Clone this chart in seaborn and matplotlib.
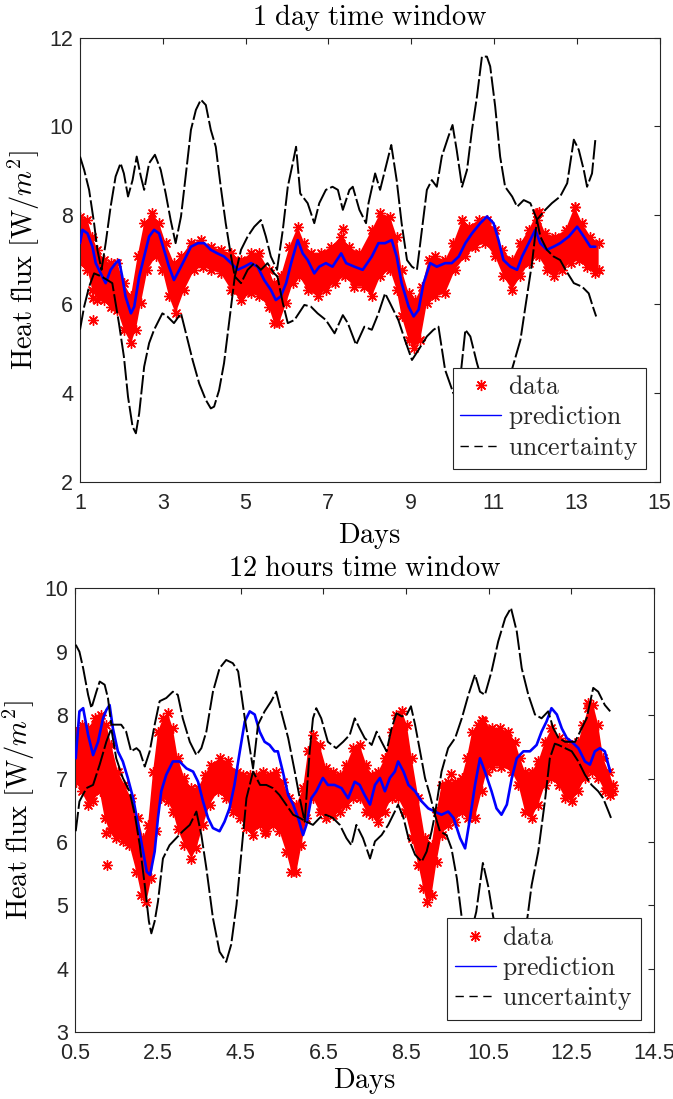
import numpy as np
import matplotlib
matplotlib.use("Agg")
import matplotlib.pyplot as plt
import seaborn as sns
from matplotlib.lines import Line2D

sns.set_style("white")
plt.rcParams["mathtext.fontset"] = "cm"
plt.rcParams["font.family"] = ["Liberation Sans", "DejaVu Sans"]

# ---------------- 1 day time window ----------------
w1_band_hi_day = [1.00, 1.18, 1.30, 1.42, 1.58, 1.74, 1.90, 2.06, 2.23, 2.39, 2.55, 2.75, 2.91, 3.07, 3.27, 3.44,
                  3.68, 3.92, 4.16, 4.40, 4.65, 4.89, 5.13, 5.33, 5.56, 5.69, 5.85, 6.06, 6.26, 6.42, 6.58, 6.82,
                  7.06, 7.31, 7.51, 7.75, 8.05, 8.25, 8.49, 8.65, 8.77, 8.94, 9.10, 9.26, 9.42, 9.58, 9.82, 10.02,
                  10.23, 10.39, 10.63, 10.83, 11.03, 11.19, 11.44, 11.64, 11.84, 12.04, 12.24, 12.48, 12.73,
                  12.95, 13.13, 13.33, 13.53]
w1_band_hi = [7.97, 7.89, 7.52, 7.22, 6.99, 6.92, 6.92, 6.47, 6.17, 7.07, 7.82, 8.04, 7.82, 7.37, 6.92, 7.07,
              7.37, 7.44, 7.29, 7.22, 7.14, 6.99, 7.14, 7.14, 6.77, 6.47, 6.62, 7.29, 7.74, 7.37, 7.14, 7.14,
              7.29, 7.52, 7.29, 7.14, 7.67, 8.04, 7.97, 7.52, 6.77, 6.24, 6.09, 6.39, 6.99, 7.07, 6.99, 7.37,
              7.89, 7.74, 7.89, 7.89, 7.67, 7.22, 6.99, 7.37, 7.67, 8.04, 7.59, 7.52, 7.67,
              8.19, 7.82, 7.52, 7.37]
w1_band_lo_day = [1.00, 1.18, 1.30, 1.42, 1.58, 1.74, 1.90, 2.06, 2.23, 2.35, 2.47, 2.63, 2.83, 2.99, 3.15, 3.31,
                  3.52, 3.76, 3.96, 4.16, 4.40, 4.65, 4.89, 5.13, 5.33, 5.56, 5.69, 5.81, 5.98, 6.14, 6.30, 6.50,
                  6.74, 6.94, 7.15, 7.39, 7.63, 7.87, 8.05, 8.25, 8.49, 8.65, 8.77, 8.94, 9.06, 9.22, 9.38, 9.58,
                  9.82, 10.06, 10.31, 10.55, 10.79, 11.03, 11.23, 11.44, 11.64, 11.84, 12.08, 12.28, 12.44,
                  12.64, 12.85, 13.05, 13.25, 13.45, 13.53]
w1_band_lo = [6.92, 6.77, 6.32, 6.09, 6.09, 5.94, 5.87, 5.42, 5.12, 5.42, 6.02, 6.77, 7.07, 6.77, 6.17, 5.79,
              6.32, 6.77, 6.84, 6.77, 6.69, 6.32, 6.09, 6.24, 6.17, 5.94, 5.57, 5.57, 6.02, 6.47, 6.62, 6.32,
              6.17, 6.32, 6.47, 6.62, 6.39, 6.39, 6.17, 6.62, 6.77, 6.32, 5.72, 5.19, 5.00, 5.19, 6.02, 6.17,
              6.24, 6.77, 7.07, 7.29, 7.37, 7.07, 6.62, 6.32, 6.62, 6.92, 7.07, 6.77, 6.62,
              6.77, 6.92, 6.99, 6.84, 6.69, 6.77]
w1_outlier_day = [1.32, 1.32, 7.35, 12.04, 12.08, 12.95]
w1_outlier = [5.64, 6.13, 7.69, 7.89, 8.08, 8.19]

w1_pred_day = [1.00, 1.06, 1.18, 1.30, 1.38, 1.50, 1.62, 1.74, 1.86, 1.94, 2.02, 2.10, 2.23, 2.31, 2.43, 2.55,
               2.67, 2.79, 2.91, 3.03, 3.15, 3.27, 3.40, 3.52, 3.68, 3.85, 4.00, 4.16, 4.32, 4.48, 4.65, 4.81,
               4.97, 5.13, 5.29, 5.45, 5.61, 5.73, 5.85, 5.98, 6.10, 6.26, 6.38, 6.50, 6.66, 6.78, 6.94, 7.10,
               7.31, 7.43, 7.63, 7.83, 8.05, 8.21, 8.37, 8.53, 8.65, 8.77, 8.94, 9.06, 9.18, 9.30, 9.46, 9.62,
               9.82, 9.98, 10.15, 10.31, 10.47, 10.67, 10.83, 10.99, 11.11, 11.23, 11.40, 11.56, 11.68, 11.84,
               12.00, 12.12, 12.28, 12.44, 12.60, 12.81, 13.01, 13.17, 13.33, 13.45]
w1_pred = [7.37, 7.67, 7.59, 7.29, 6.92, 6.69, 6.47, 6.77, 6.92, 6.99, 6.62, 6.17, 5.79, 5.94, 6.62, 7.07,
           7.52, 7.67, 7.59, 7.22, 6.84, 6.54, 6.77, 6.99, 7.29, 7.37, 7.37, 7.22, 7.14, 7.07, 6.92, 6.77,
           6.84, 6.92, 6.84, 6.54, 6.32, 6.09, 6.17, 6.47, 6.92, 7.44, 7.14, 6.99, 6.69, 6.84, 6.92, 6.84,
           7.14, 6.92, 6.84, 6.77, 7.07, 7.37, 7.37, 7.44, 7.07, 6.47, 5.94, 5.72, 5.87, 6.47, 6.92, 6.84,
           6.92, 6.92, 7.07, 7.37, 7.59, 7.82, 7.97, 7.82, 7.44, 6.99, 6.84, 6.77, 7.07, 7.37,
           7.67, 7.37, 7.22, 7.29, 7.37, 7.52, 7.74, 7.52, 7.29, 7.29]

w1_unc_hi_day = [1.00, 1.10, 1.22, 1.34, 1.42, 1.52, 1.62, 1.74, 1.86, 1.98, 2.06, 2.16, 2.27, 2.37, 2.47, 2.55,
                 2.67, 2.81, 2.95, 3.07, 3.19, 3.31, 3.44, 3.56, 3.68, 3.80, 3.92, 4.04, 4.16, 4.28, 4.40, 4.52,
                 4.65, 4.74, 4.89, 5.05, 5.21, 5.37, 5.49, 5.61, 5.76, 5.90, 6.02, 6.14, 6.22, 6.32, 6.50, 6.66,
                 6.78, 6.94, 7.10, 7.23, 7.35, 7.51, 7.59, 7.75, 7.91, 7.97, 8.13, 8.25, 8.37, 8.52, 8.65, 8.77,
                 8.90, 9.02, 9.14, 9.26, 9.38, 9.50, 9.62, 9.74, 9.90, 10.00, 10.10, 10.23, 10.35, 10.47, 10.59,
                 10.71, 10.83, 10.91, 11.03, 11.15, 11.27, 11.44, 11.56, 11.72, 11.88, 12.04, 12.24, 12.40,
                 12.60, 12.77, 12.93, 13.05, 13.17, 13.25, 13.37, 13.45]
w1_unc_hi = [9.32, 9.02, 8.57, 7.82, 7.22, 6.77, 7.37, 8.19, 8.87, 9.17, 8.94, 8.42, 8.79, 9.32, 8.87, 8.57,
             9.17, 9.36, 9.02, 8.49, 7.89, 7.37, 7.97, 8.94, 9.92, 10.37, 10.60, 10.48, 9.92, 9.54, 8.64, 7.82,
             7.07, 6.62, 7.22, 7.52, 7.74, 7.89, 7.52, 7.07, 6.77, 7.67, 8.64, 9.17, 9.54, 8.49, 8.27, 7.82,
             8.27, 8.57, 8.64, 8.57, 8.12, 8.57, 8.64, 8.12, 7.82, 8.27, 8.94, 8.57, 9.02, 9.58, 8.79, 7.82,
             6.99, 6.84, 6.77, 7.67, 8.57, 8.79, 8.64, 9.32, 9.77, 10.03, 9.47, 8.64, 9.02, 9.92, 10.67,
             11.57, 11.57, 11.35, 10.45, 9.32, 8.64, 8.42, 8.19, 8.34, 8.27, 7.90, 8.12, 8.27,
             8.42, 8.72, 9.70, 9.47, 9.02, 8.64, 8.94, 9.70]
w1_unc_lo_day = [1.00, 1.10, 1.22, 1.34, 1.52, 1.66, 1.78, 1.86, 1.94, 2.06, 2.16, 2.27, 2.35, 2.43, 2.55, 2.67,
                 2.79, 2.99, 3.11, 3.27, 3.44, 3.56, 3.72, 3.88, 4.04, 4.16, 4.24, 4.36, 4.48, 4.60, 4.74, 4.89,
                 5.05, 5.21, 5.37, 5.53, 5.69, 5.77, 5.90, 6.02, 6.18, 6.42, 6.58, 6.74, 6.94, 7.15, 7.35, 7.47,
                 7.67, 7.87, 8.05, 8.21, 8.37, 8.49, 8.69, 8.85, 9.02, 9.18, 9.38, 9.54, 9.66, 9.82, 10.02,
                 10.19, 10.31, 10.43, 10.59, 10.80, 11.05, 11.30, 11.48, 11.64, 11.76, 11.92, 12.04, 12.12,
                 12.28, 12.44, 12.60, 12.73, 12.93, 13.13, 13.29, 13.39, 13.47]
w1_unc_lo = [5.42, 5.94, 6.39, 6.69, 6.62, 6.54, 6.47, 6.02, 5.57, 4.82, 3.91, 3.24, 3.09, 3.54, 4.59, 5.12,
             5.42, 5.79, 5.72, 5.57, 5.79, 5.34, 4.74, 4.21, 3.84, 3.65, 3.69, 4.06, 4.67, 5.57, 6.62, 6.47,
             6.77, 6.92, 6.77, 6.92, 6.69, 6.62, 6.02, 5.57, 5.64, 5.98, 5.94, 5.79, 5.64, 5.34, 5.75, 5.57,
             5.08, 5.49, 5.42, 5.79, 6.24, 6.02, 5.64, 5.19, 4.74, 4.97, 5.27, 5.42, 5.49, 4.52, 3.99,
             4.36, 5.42, 5.27, 4.67, 4.00, 3.70, 4.10, 4.67, 5.19, 5.94, 6.92, 7.90, 7.52,
             7.22, 7.07, 6.99, 6.77, 6.47, 6.39, 6.24, 5.94, 5.72]

# ---------------- 12 hours time window ----------------
w2_band_hi_day = [0.51, 0.65, 0.81, 0.97, 1.13, 1.25, 1.37, 1.53, 1.69, 1.85, 2.02, 2.14, 2.26, 2.38, 2.50, 2.62,
                  2.74, 2.86, 2.98, 3.14, 3.31, 3.47, 3.63, 3.79, 3.99, 4.19, 4.40, 4.56, 4.72, 4.88, 5.04, 5.20,
                  5.36, 5.52, 5.68, 5.85, 6.01, 6.13, 6.25, 6.41, 6.57, 6.73, 6.90, 7.06, 7.22, 7.38, 7.54, 7.67,
                  7.83, 7.99, 8.15, 8.27, 8.40, 8.52, 8.64, 8.80, 8.96, 9.12, 9.24, 9.36, 9.52, 9.69, 9.85, 9.97,
                  10.10, 10.25, 10.37, 10.57, 10.77, 10.98, 11.14, 11.26, 11.38, 11.54, 11.70, 11.86, 12.02,
                  12.19, 12.35, 12.51, 12.67, 12.79, 12.91, 13.03, 13.15, 13.27, 13.40, 13.52]
w2_band_hi = [7.74, 7.85, 7.79, 7.95, 8.01, 7.85, 7.53, 7.11, 6.90, 6.69, 6.38, 6.06, 6.27, 7.11, 7.74, 7.95,
              8.03, 7.79, 7.32, 7.01, 6.85, 6.85, 7.06, 7.22, 7.32, 7.27, 7.11, 7.06, 7.06, 7.06, 7.11, 7.06,
              7.11, 6.95, 6.69, 6.59, 6.85, 7.43, 7.69, 7.53, 7.16, 7.11, 7.06, 7.22, 7.48, 7.53, 7.22, 7.06,
              7.11, 7.32, 7.74, 8.01, 8.06, 7.85, 7.32, 6.69, 6.06, 5.95, 6.48, 6.90, 6.95, 6.95, 7.01, 7.32,
              7.74, 7.85, 7.90, 7.79, 7.79, 7.74, 7.58, 7.32, 7.11, 7.11, 7.27, 7.58, 7.79,
              7.64, 7.58, 7.53, 7.58, 7.85, 8.11, 8.16, 7.85, 7.32, 7.11, 6.90]
w2_band_lo_day = [0.51, 0.65, 0.81, 0.93, 1.09, 1.21, 1.33, 1.49, 1.65, 1.81, 1.98, 2.10, 2.22, 2.34, 2.46, 2.58,
                  2.74, 2.86, 2.98, 3.14, 3.31, 3.43, 3.59, 3.75, 3.95, 4.15, 4.31, 4.48, 4.64, 4.80, 4.96, 5.12,
                  5.28, 5.44, 5.60, 5.73, 5.85, 5.97, 6.09, 6.25, 6.41, 6.57, 6.73, 6.90, 7.06, 7.22, 7.38, 7.54,
                  7.67, 7.83, 7.99, 8.15, 8.31, 8.48, 8.64, 8.80, 8.92, 9.00, 9.12, 9.24, 9.36, 9.52, 9.69, 9.85,
                  10.01, 10.17, 10.33, 10.45, 10.57, 10.81, 11.06, 11.22, 11.38, 11.54, 11.70, 11.86, 12.02,
                  12.19, 12.35, 12.51, 12.67, 12.83, 12.99, 13.15, 13.31, 13.44, 13.52]
w2_band_lo = [6.95, 6.80, 6.59, 6.64, 6.80, 6.38, 6.17, 6.06, 6.01, 5.95, 5.53, 5.17, 5.06, 5.43, 6.17, 6.69,
              6.64, 6.48, 6.20, 5.95, 5.74, 5.90, 6.27, 6.59, 6.80, 6.69, 6.48, 6.38, 6.22, 6.11, 6.27, 6.17,
              6.27, 6.17, 5.85, 5.53, 5.53, 5.95, 6.38, 6.69, 6.48, 6.38, 6.43, 6.48, 6.59, 6.69, 6.69, 6.48,
              6.43, 6.32, 6.48, 6.69, 6.69, 6.48, 6.06, 5.64, 5.27, 5.06, 5.17, 5.69, 6.11, 6.27, 6.32, 6.48,
              6.38, 6.38, 6.80, 7.11, 7.19, 7.19, 7.11, 6.90, 6.48, 6.38, 6.59, 6.90, 7.01,
              6.90, 6.69, 6.64, 6.80, 7.01, 7.11, 7.01, 6.80, 6.74, 6.80]
w2_outlier_day = [1.27, 1.25, 5.10, 9.60, 10.33, 12.90]
w2_outlier = [5.64, 6.14, 6.14, 7.07, 7.93, 8.19]

w2_pred_day = [0.51, 0.60, 0.69, 0.81, 0.93, 1.05, 1.17, 1.25, 1.33, 1.41, 1.53, 1.65, 1.77, 1.90, 2.02, 2.14,
               2.23, 2.31, 2.42, 2.50, 2.58, 2.70, 2.86, 3.02, 3.19, 3.35, 3.47, 3.59, 3.71, 3.83, 3.99, 4.11,
               4.23, 4.35, 4.48, 4.60, 4.72, 4.84, 4.96, 5.08, 5.20, 5.32, 5.40, 5.52, 5.65, 5.77, 5.89, 6.01,
               6.09, 6.21, 6.33, 6.49, 6.61, 6.77, 6.94, 7.10, 7.26, 7.38, 7.50, 7.63, 7.75, 7.87, 7.99, 8.11,
               8.23, 8.31, 8.44, 8.56, 8.72, 8.88, 9.04, 9.20, 9.36, 9.52, 9.65, 9.81, 9.93, 10.05, 10.17,
               10.29, 10.41, 10.57, 10.69, 10.81, 10.94, 11.06, 11.18, 11.34, 11.50, 11.66, 11.78, 11.90,
               12.02, 12.15, 12.27, 12.39, 12.51, 12.67, 12.83, 12.95, 13.07, 13.19, 13.31, 13.44]
w2_pred = [7.32, 8.06, 8.11, 7.69, 7.37, 7.58, 7.95, 8.08, 8.16, 7.79, 7.43, 7.27, 7.01, 6.69, 6.27, 5.85,
           5.53, 5.48, 5.85, 6.38, 6.80, 7.06, 7.27, 7.27, 7.16, 7.11, 6.95, 6.64, 6.38, 6.22, 6.17, 6.32,
           6.53, 6.90, 7.43, 7.90, 8.06, 8.01, 7.74, 7.58, 7.53, 7.43, 7.43, 7.11, 6.74, 6.59, 6.38, 6.11,
           6.27, 6.69, 6.80, 7.01, 6.90, 6.90, 6.85, 6.69, 6.95, 6.90, 6.74, 6.59, 6.90, 7.01, 6.80, 7.01,
           7.11, 7.27, 7.11, 6.90, 6.80, 6.64, 6.53, 6.48, 6.43, 6.48, 6.38, 6.06, 5.90, 6.38, 6.90,
           7.32, 7.11, 6.80, 6.53, 6.43, 6.59, 7.01, 7.32, 7.43, 7.43, 7.53, 7.74, 7.90,
           8.11, 8.01, 7.79, 7.64, 7.58, 7.48, 7.27, 7.22, 7.43, 7.48, 7.43, 7.11]

w2_unc_hi_day = [0.51, 0.60, 0.69, 0.81, 0.89, 1.01, 1.09, 1.21, 1.29, 1.37, 1.49, 1.61, 1.73, 1.85, 1.98, 2.06,
                 2.18, 2.30, 2.42, 2.54, 2.70, 2.86, 2.98, 3.10, 3.27, 3.43, 3.55, 3.67, 3.83, 3.99, 4.15, 4.31,
                 4.44, 4.52, 4.60, 4.72, 4.80, 4.92, 5.08, 5.24, 5.36, 5.48, 5.65, 5.81, 5.93, 6.05, 6.17, 6.25,
                 6.33, 6.45, 6.61, 6.81, 6.98, 7.14, 7.26, 7.38, 7.50, 7.67, 7.79, 7.91, 8.03, 8.15, 8.27, 8.40,
                 8.52, 8.62, 8.72, 8.84, 8.96, 9.08, 9.20, 9.36, 9.52, 9.69, 9.85, 10.01, 10.17, 10.29, 10.41,
                 10.57, 10.73, 10.90, 11.04, 11.18, 11.30, 11.46, 11.62, 11.78, 11.94, 12.06, 12.19, 12.35,
                 12.59, 12.75, 12.87, 13.03, 13.15, 13.31, 13.44]
w2_unc_hi = [9.11, 9.00, 8.74, 8.32, 8.11, 8.37, 8.53, 8.48, 8.27, 7.85, 7.85, 7.85, 7.74, 7.43, 7.48, 7.43,
             7.19, 7.43, 7.85, 8.22, 8.27, 8.37, 8.32, 7.95, 7.58, 7.37, 7.48, 7.74, 8.37, 8.74, 8.87, 8.82,
             8.69, 8.32, 7.95, 7.48, 7.16, 7.85, 8.06, 8.22, 8.37, 8.06, 7.64, 7.11, 6.69, 6.32, 7.43, 7.95,
             8.11, 7.95, 7.58, 7.48, 7.58, 7.69, 7.95, 7.79, 7.64, 7.53, 7.74, 7.58, 7.43, 7.79, 8.03, 7.98,
             8.01, 8.14, 7.85, 7.43, 7.01, 6.74, 6.43, 7.11, 7.48, 7.64, 7.95, 8.32, 8.64, 8.37, 8.32,
             8.69, 9.16, 9.53, 9.69, 9.32, 8.74, 8.32, 8.01, 7.95, 8.06, 7.80, 7.64, 7.58,
             7.58, 7.79, 7.95, 8.43, 8.37, 8.16, 8.06]
w2_unc_lo_day = [0.51, 0.60, 0.77, 0.93, 1.09, 1.25, 1.37, 1.49, 1.65, 1.81, 1.94, 2.06, 2.18, 2.28, 2.34, 2.42,
                 2.50, 2.62, 2.78, 2.94, 3.10, 3.27, 3.43, 3.55, 3.67, 3.83, 3.99, 4.15, 4.27, 4.40, 4.52, 4.64,
                 4.80, 4.97, 5.12, 5.28, 5.44, 5.60, 5.77, 5.93, 6.09, 6.25, 6.41, 6.56, 6.73, 6.90, 7.06, 7.18,
                 7.30, 7.46, 7.63, 7.75, 7.91, 8.07, 8.23, 8.31, 8.44, 8.56, 8.72, 8.88, 9.00, 9.12, 9.20, 9.32,
                 9.48, 9.60, 9.73, 9.85, 10.01, 10.20, 10.36, 10.49, 10.61, 10.90, 11.22, 11.44, 11.54, 11.70,
                 11.86, 11.98, 12.10, 12.19, 12.35, 12.51, 12.67, 12.83, 12.99, 13.15, 13.27, 13.40, 13.46]
w2_unc_lo = [6.17, 6.64, 6.85, 6.90, 7.22, 7.58, 7.79, 7.32, 7.01, 6.80, 6.43, 5.95, 5.32, 4.75, 4.56, 4.75,
             5.06, 5.74, 5.95, 6.06, 6.17, 6.27, 6.48, 6.11, 5.59, 4.80, 4.27, 4.11, 4.38, 5.01, 5.85, 6.69,
             7.11, 6.90, 6.90, 6.85, 6.74, 6.59, 6.43, 6.38, 6.32, 6.27, 6.38, 6.43, 6.38, 6.27, 6.06, 5.95,
             6.27, 6.06, 5.74, 6.01, 6.11, 6.27, 6.48, 6.59, 6.38, 6.06, 5.80, 5.69, 5.85, 6.17, 6.43, 6.17,
             6.11, 5.90, 5.43, 4.80, 4.40, 4.90, 5.67, 5.30, 4.82, 4.10, 4.20, 4.82, 5.32, 5.85,
             6.64, 7.32, 7.55, 7.53, 7.48, 7.43, 7.27, 7.06, 6.90, 6.80, 6.69, 6.48, 6.38]

titles = ["1 day time window", "12 hours time window"]
x_ticks = [[1, 3, 5, 7, 9, 11, 13, 15], [0.5, 2.5, 4.5, 6.5, 8.5, 10.5, 12.5, 14.5]]
x_tick_labels = [["1", "3", "5", "7", "9", "11", "13", "15"],
                 ["0.5", "2.5", "4.5", "6.5", "8.5", "10.5", "12.5", "14.5"]]
y_ticks = [[2, 4, 6, 8, 10, 12], [3, 4, 5, 6, 7, 8, 9, 10]]
legend_labels = ["data", "prediction", "uncertainty"]
xlabel_pads = [5, 1]

AX_COLOR = "#262626"
ASTERISK = (8, 2, 0)


def tex(s):
    return r"$\mathrm{" + s.replace(" ", r"\ ") + "}$"


def draw_window(ax, band_hi_d, band_hi, band_lo_d, band_lo, out_d, out_v,
                pred_d, pred, unc_hi_d, unc_hi, unc_lo_d, unc_lo):
    # measured data: the dense cloud of samples, fringed with asterisk markers
    poly_x = np.r_[band_hi_d, band_lo_d[::-1]]
    poly_y = np.r_[band_hi, band_lo[::-1]]
    ax.fill(poly_x, poly_y, color="red", lw=0, zorder=1)
    for dd, vv in ((band_hi_d, band_hi), (band_lo_d, band_lo), (out_d, out_v)):
        sns.scatterplot(x=dd, y=vv, ax=ax, marker=ASTERISK, s=50, color="red",
                        edgecolor="red", linewidth=1.0, legend=False, zorder=2)
    # model prediction
    sns.lineplot(x=pred_d, y=pred, ax=ax, color="blue", lw=1.9, sort=False,
                 estimator=None, zorder=3)
    # uncertainty bounds
    for dd, vv in ((unc_hi_d, unc_hi), (unc_lo_d, unc_lo)):
        sns.lineplot(x=dd, y=vv, ax=ax, color="black", lw=1.4, sort=False,
                     estimator=None, linestyle=(0, (10, 1.6)), zorder=4)


fig = plt.figure(figsize=(6.73, 10.99), dpi=100)
ax1 = fig.add_axes([80 / 673, 1 - 481.7 / 1099, 579.5 / 673, 444.2 / 1099])
ax2 = fig.add_axes([75.3 / 673, 1 - 1032.3 / 1099, 578.7 / 673, 444.0 / 1099])

draw_window(ax1, w1_band_hi_day, w1_band_hi, w1_band_lo_day, w1_band_lo, w1_outlier_day, w1_outlier,
            w1_pred_day, w1_pred, w1_unc_hi_day, w1_unc_hi, w1_unc_lo_day, w1_unc_lo)
draw_window(ax2, w2_band_hi_day, w2_band_hi, w2_band_lo_day, w2_band_lo, w2_outlier_day, w2_outlier,
            w2_pred_day, w2_pred, w2_unc_hi_day, w2_unc_hi, w2_unc_lo_day, w2_unc_lo)

handles = [Line2D([], [], color="red", marker=ASTERISK, linestyle="none", markersize=8, mew=1.0),
           Line2D([], [], color="blue", lw=1.0),
           Line2D([], [], color="black", lw=1.0, linestyle=(0, (6, 4)))]

for i, ax in enumerate((ax1, ax2)):
    ax.set_xlim(x_ticks[i][0], x_ticks[i][-1])
    ax.set_ylim(y_ticks[i][0], y_ticks[i][-1])
    ax.set_xticks(x_ticks[i])
    ax.set_xticklabels(x_tick_labels[i])
    ax.set_yticks(y_ticks[i])
    ax.set_yticklabels([str(v) for v in y_ticks[i]])
    ax.tick_params(axis="both", which="both", direction="in", top=True, right=True,
                   length=4.5, width=0.8, color=AX_COLOR, labelcolor=AX_COLOR, labelsize=15.5)
    ax.tick_params(axis="x", pad=8)
    ax.tick_params(axis="y", pad=5)
    for sp in ax.spines.values():
        sp.set_visible(True)
        sp.set_color(AX_COLOR)
        sp.set_linewidth(0.8)
    ax.set_title(tex(titles[i]), fontsize=20.5, pad=9, color="black")
    ax.set_xlabel(tex("Days"), fontsize=20.5, labelpad=xlabel_pads[i], color="black")
    ax.set_ylabel(r"$\mathrm{Heat\ flux\ [W/}m^2\mathrm{]}$", fontsize=20.5, labelpad=5, color="black")
    leg = ax.legend(handles, [tex(s) for s in legend_labels], loc="lower right",
                    bbox_to_anchor=(0.977, 0.028), borderaxespad=0, fontsize=18.5,
                    frameon=True, fancybox=False, framealpha=1, edgecolor=AX_COLOR,
                    handlelength=1.6, handletextpad=0.25, labelspacing=0.14, borderpad=0.3)
    leg.get_frame().set_linewidth(0.8)
    leg.set_zorder(10)

fig.savefig("out.png", dpi=100)
